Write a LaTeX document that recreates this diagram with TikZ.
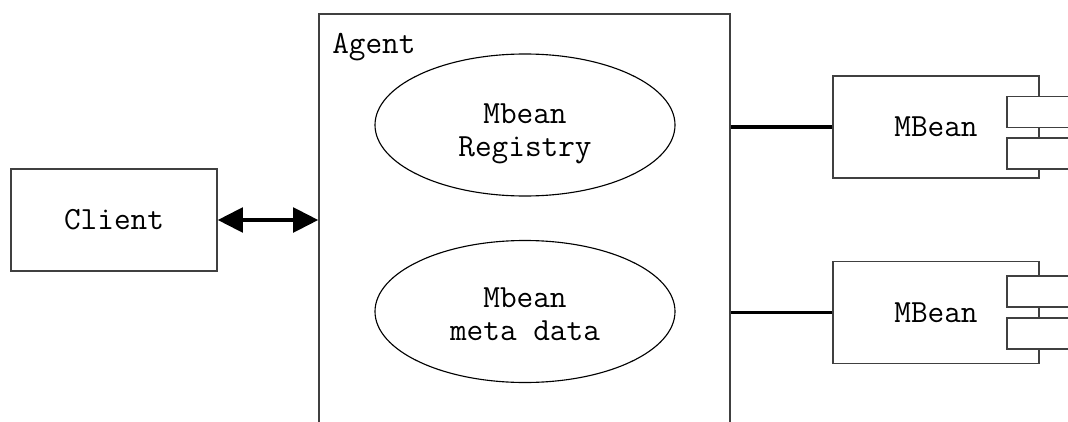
\documentclass[tikz,border=0pt]{standalone}
\usetikzlibrary{arrows.meta,shapes.geometric}

\tikzset{
  box/.style={draw=black!75, line width=1.1pt, rectangle, minimum width=5.15cm, minimum height=2.55cm, inner sep=0pt},
  tab/.style={draw=black!75, line width=1.1pt, fill=white, rectangle, minimum width=1.65cm, minimum height=0.775cm, inner sep=0pt},
  blob/.style={draw, line width=0.8pt, ellipse, minimum width=7.5cm, minimum height=3.55cm, align=center, inner sep=0pt},
  link/.style={line width=2.4pt},
}

\begin{document}
\begin{tikzpicture}[font=\ttfamily\fontsize{23}{23.5}\selectfont, >={Triangle[length=0.63cm,width=0.62cm]}]
\clip (0,0) rectangle (26.7,10.525);
\fill[white] (0,0) rectangle (26.7,10.525);

%Client
\node[box] (client) at (2.85,5.025) {Client};

%Agent
\node[draw=black!75, line width=1.1pt, minimum width=10.275cm, minimum height=10.675cm, inner sep=0pt] (agent) at (13.1125,4.8375) {};
\node[anchor=base west, inner sep=0pt] (agentname) at (8.3,9.19) {Agent};
\node[blob] (registry) at (13.125,7.4) {};
\node[blob] (meta) at (13.125,2.7375) {};
\node[align=center] (registrytext) at ([yshift=-0.22cm]registry.center) {Mbean\\Registry};
\node[align=center] (metatext) at ([yshift=-0.07cm]meta.center) {Mbean\\meta data};

%MBeans
\node[box] (mb1) at (23.4,7.35) {MBean};
\node[tab] (mb1a) at ([yshift=0.37cm]mb1.east) {};
\node[tab] (mb1b) at ([yshift=-0.665cm]mb1.east) {};

\node[box] (mb2) at (23.4,2.7125) {MBean};
\node[tab] (mb2a) at ([yshift=0.525cm]mb2.east) {};
\node[tab] (mb2b) at ([yshift=-0.525cm]mb2.east) {};

%links
\draw[link, <->] (client.east) -- (client.east -| agent.west);
\draw[link] (mb1.west) -- (mb1.west -| agent.east);
\draw[link] (mb2.west) -- (mb2.west -| agent.east);
\end{tikzpicture}
\end{document}
